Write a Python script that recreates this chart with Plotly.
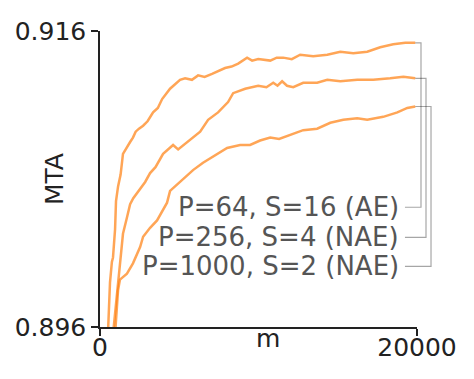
import plotly.graph_objects as go

# ── data ─────────────────────────────────────────────────────────────────────
labels = ["P=64, S=16 (AE)", "P=256, S=4 (NAE)", "P=1000, S=2 (NAE)"]

m_ae64 = [500, 630, 750, 820, 950, 1010, 1140, 1300, 1450, 1700, 1900, 2080,
          2250, 2460, 2720, 3000, 3350, 3650, 3920, 4420, 5050, 5370, 5800,
          6190, 6600, 7070, 7500, 7890, 8300, 8720, 9280, 9600, 9980, 10740,
          11150, 11560, 12100, 12630, 13450, 14340, 15160, 15980, 16860, 17680,
          18500, 19260, 19890]
mta_ae64 = [0.8955, 0.8990, 0.9004, 0.9007, 0.9026, 0.9045, 0.9055, 0.9063,
            0.9077, 0.9081, 0.9085, 0.9088, 0.9092, 0.9094, 0.9096, 0.9099,
            0.9105, 0.9108, 0.9114, 0.9121, 0.9127, 0.9128, 0.9127, 0.9130,
            0.9129, 0.9131, 0.9133, 0.9135, 0.9136, 0.9138, 0.9142, 0.9140,
            0.9141, 0.9140, 0.9142, 0.9142, 0.9141, 0.9144, 0.9143, 0.9144,
            0.9146, 0.9145, 0.9146, 0.9149, 0.9151, 0.9152, 0.9152]

m_nae256 = [820, 1140, 1450, 1700, 1900, 2100, 2300, 2530, 2850, 3160, 3500,
            3980, 4610, 4930, 5370, 5870, 6320, 6820, 7450, 8080, 8400, 9160,
            9980, 10500, 10930, 11200, 11490, 11800, 12190, 12820, 13700,
            14340, 15160, 16230, 17240, 18310, 19140, 19890]
mta_nae256 = [0.8955, 0.8990, 0.9023, 0.9034, 0.9043, 0.9047, 0.9050, 0.9054,
              0.9058, 0.9064, 0.9068, 0.9077, 0.9083, 0.9080, 0.9084, 0.9088,
              0.9092, 0.9100, 0.9105, 0.9112, 0.9118, 0.9121, 0.9123, 0.9122,
              0.9125, 0.9123, 0.9126, 0.9123, 0.9122, 0.9125, 0.9125, 0.9127,
              0.9126, 0.9127, 0.9127, 0.9128, 0.9129, 0.9128]

m_nae1000 = [950, 1140, 1260, 1700, 2080, 2530, 2720, 3160, 3600, 4230, 4420,
             5050, 5870, 6500, 7140, 8020, 8840, 9470, 10100, 10740, 11300,
             11810, 12300, 12820, 13700, 14530, 15350, 16230, 16860, 17870,
             18760, 19390, 19890]
mta_nae1000 = [0.8955, 0.8985, 0.8992, 0.8996, 0.9003, 0.9014, 0.9021, 0.9027,
               0.9032, 0.9044, 0.9052, 0.9058, 0.9066, 0.9071, 0.9075, 0.9081,
               0.9083, 0.9083, 0.9086, 0.9088, 0.9087, 0.9089, 0.9091, 0.9093,
               0.9094, 0.9098, 0.9100, 0.9101, 0.9100, 0.9102, 0.9105, 0.9108,
               0.9109]

label_mta = [0.90409, 0.90206, 0.90010]   # where each label sits on the y scale

x_ticks = [0, 20000]
y_ticks = [0.896, 0.916]

series = [(m_ae64, mta_ae64), (m_nae256, mta_nae256), (m_nae1000, mta_nae1000)]

LINE = "rgba(255,127,14,0.7)"
LEAD = "rgba(0,0,0,0.35)"
FONT = "DejaVu Sans"
X_MAX = 20000

fig = go.Figure()
for (xs, ys), name in zip(series, labels):
    fig.add_trace(go.Scatter(
        x=xs, y=ys, mode="lines", name=name,
        line=dict(color=LINE, width=2.5),
        showlegend=False,
    ))

# ── leader lines + labels ────────────────────────────────────────────────────
elbows = [1.0126, 1.0284, 1.0442]     # paper x of each vertical run
for (xs, ys), name, ly, ex in zip(series, labels, label_mta, elbows):
    x_end = xs[-1] / X_MAX
    fig.add_shape(
        type="path", xref="paper", yref="y",
        path=f"M {x_end},{ys[-1]} L {ex},{ys[-1]} L {ex},{ly} L 0.962,{ly}",
        line=dict(color=LEAD, width=1.2),
        layer="above",
    )
    fig.add_annotation(
        x=0.948, y=ly, xref="paper", yref="y",
        text=name, showarrow=False, xanchor="right", yanchor="middle",
        font=dict(family=FONT, size=26, color="#555555"),
    )

# axis titles as free text (they sit between the tick labels)
fig.add_annotation(x=-0.145, y=0.5, xref="paper", yref="paper", text="MTA",
                   textangle=-90, showarrow=False,
                   xanchor="center", yanchor="middle",
                   font=dict(family=FONT, size=25, color="#222222"))
fig.add_annotation(x=0.53, y=-0.04, xref="paper", yref="paper", text="m",
                   showarrow=False, xanchor="center", yanchor="middle",
                   font=dict(family=FONT, size=25, color="#222222"))

# page body adds an 8px offset, so the left/top margins are trimmed by 8px
fig.update_layout(
    width=466, height=371,
    margin=dict(l=92, r=57, t=23, b=52),
    paper_bgcolor="white", plot_bgcolor="white",
    font=dict(family=FONT, size=25, color="#222222"),
)
fig.update_xaxes(
    range=[0, X_MAX], tickvals=x_ticks, ticktext=[str(v) for v in x_ticks],
    showgrid=False, zeroline=False, showline=True, linecolor="#222222",
    linewidth=1.5, ticks="outside", ticklen=7, tickcolor="#222222",
    tickwidth=1.5, automargin=False, ticklabelstandoff=-10,
)
fig.update_yaxes(
    range=[y_ticks[0], y_ticks[1]], tickvals=y_ticks,
    ticktext=[f"{v:.3f}" for v in y_ticks],
    showgrid=False, zeroline=False, showline=True, linecolor="#222222",
    linewidth=1.5, ticks="outside", ticklen=7, tickcolor="#222222",
    tickwidth=1.5, automargin=False,
)

fig.write_html("out.html")
